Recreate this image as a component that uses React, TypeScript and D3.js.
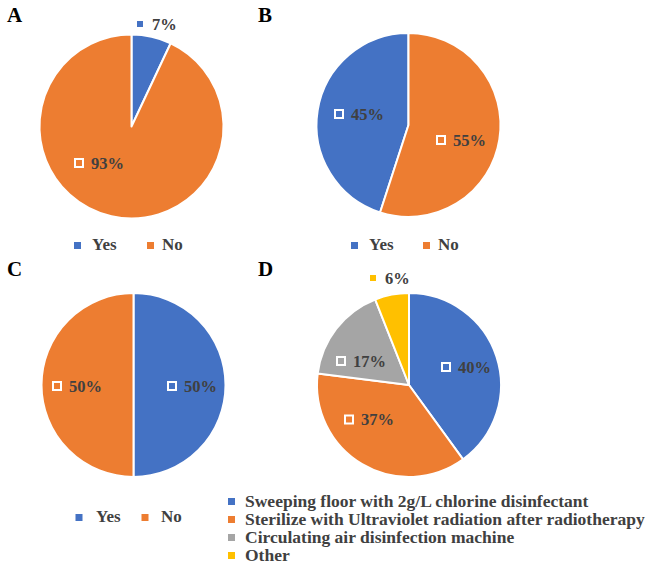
import React from "react";
import * as d3 from "d3";

// ---- data ----
const yesNo = ["Yes", "No"];
const valuesA = [7, 93];
const valuesB = [45, 55];
const valuesC = [50, 50];
const methods = [
  "Sweeping floor with 2g/L chlorine disinfectant",
  "Sterilize with Ultraviolet radiation after radiotherapy",
  "Circulating air disinfection machine",
  "Other",
];
const valuesD = [40, 37, 17, 6];
const panelLetters = ["A", "B", "C", "D"];

// ---- style / layout ----
const colors = ["#4472C4", "#ED7D31", "#A5A5A5", "#FFC000"];
const W = 648;
const H = 564;
const R = 92;
const FONT = "'Liberation Serif', 'Times New Roman', serif";
const LABEL_COLOR = "#404040";

type Panel = {
  letter: string;
  letterX: number;
  letterY: number;
  cx: number;
  cy: number;
  values: number[];
  cats: string[];
  startDeg: number;
  labelOffsets: [number, number][];
  legendY: number;
  legendXs: number[]; // [square, text] per category (row legends)
};

const panels: Panel[] = [
  {
    letter: panelLetters[0], letterX: 7, letterY: 22,
    cx: 131.5, cy: 126.5, values: valuesA, cats: yesNo, startDeg: 0,
    labelOffsets: [[8.5, -102.5], [-52.5, 36.5]],
    legendY: 245.5, legendXs: [77.5, 92, 150.5, 162],
  },
  {
    letter: panelLetters[1], letterX: 258, letterY: 22,
    cx: 408.5, cy: 125, values: valuesB, cats: yesNo, startDeg: 198,
    labelOffsets: [[-69.5, -11], [32.5, 15]],
    legendY: 245.5, legendXs: [354.5, 369, 426.5, 438],
  },
  {
    letter: panelLetters[2], letterX: 7, letterY: 276,
    cx: 133.5, cy: 385, values: valuesC, cats: yesNo, startDeg: 0,
    labelOffsets: [[38.5, 1], [-76.5, 1]],
    legendY: 517.5, legendXs: [79, 96, 145, 161],
  },
  {
    letter: panelLetters[3], letterX: 258, letterY: 276,
    cx: 409, cy: 385, values: valuesD, cats: methods, startDeg: 0,
    labelOffsets: [[37, -18], [-60, 34.5], [-68, -24], [-36, -107]],
    legendY: 501.5, legendXs: [231.5, 245],
  },
];

const arcGen = d3.arc<d3.PieArcDatum<number>>().innerRadius(0).outerRadius(R);

function PiePanel({ p }: { p: Panel }) {
  const s = (p.startDeg * Math.PI) / 180;
  const pie = d3.pie<number>().sort(null).value((d) => d).startAngle(s).endAngle(s + 2 * Math.PI);
  const arcs = pie(p.values);
  const column = p.cats.length > 2;
  return (
    <g>
      <text x={p.letterX} y={p.letterY} fontFamily={FONT} fontWeight="bold" fontSize={21} fill="#000">
        {p.letter}
      </text>
      <g transform={`translate(${p.cx},${p.cy})`}>
        {arcs.map((a, i) => (
          <path key={i} d={arcGen(a) || ""} fill={colors[i]} stroke="#fff" strokeWidth={2} strokeLinejoin="round" />
        ))}
        {arcs.map((a, i) => {
          const [dx, dy] = p.labelOffsets[i];
          return (
            <g key={"l" + i}>
              <rect x={dx - 4} y={dy - 4} width={8} height={8} fill={colors[i]} stroke="#fff" strokeWidth={2} />
              <text x={dx + 12} y={dy + 5.5} fontFamily={FONT} fontWeight="bold" fontSize={16.5} fill={LABEL_COLOR}>
                {`${p.values[i]}%`}
              </text>
            </g>
          );
        })}
      </g>
      {!column ? (
        <g>
          {p.cats.map((c, i) => {
            const sx = p.legendXs[i * 2];
            const tx = p.legendXs[i * 2 + 1];
            return (
              <g key={c}>
                <rect x={sx - 3.5} y={p.legendY - 3.5} width={7} height={7} fill={colors[i]} />
                <text x={tx} y={p.legendY + 4} fontFamily={FONT} fontWeight="bold" fontSize={17} fill={LABEL_COLOR}>
                  {c}
                </text>
              </g>
            );
          })}
        </g>
      ) : (
        <g>
          {p.cats.map((c, i) => {
            const y = p.legendY + i * 18;
            return (
              <g key={c}>
                <rect x={p.legendXs[0] - 3.5} y={y - 3.5} width={7} height={7} fill={colors[i]} />
                <text x={p.legendXs[1]} y={y + 5.5} fontFamily={FONT} fontWeight="bold" fontSize={17.5} fill={LABEL_COLOR}>
                  {c}
                </text>
              </g>
            );
          })}
        </g>
      )}
    </g>
  );
}

export default function App() {
  return (
    <svg
      width={W}
      height={H}
      viewBox={`0 0 ${W} ${H}`}
      style={{ position: "absolute", left: 0, top: 0, background: "#fff" }}
    >
      <rect width={W} height={H} fill="#fff" />
      {panels.map((p) => (
        <PiePanel key={p.letter} p={p} />
      ))}
    </svg>
  );
}
